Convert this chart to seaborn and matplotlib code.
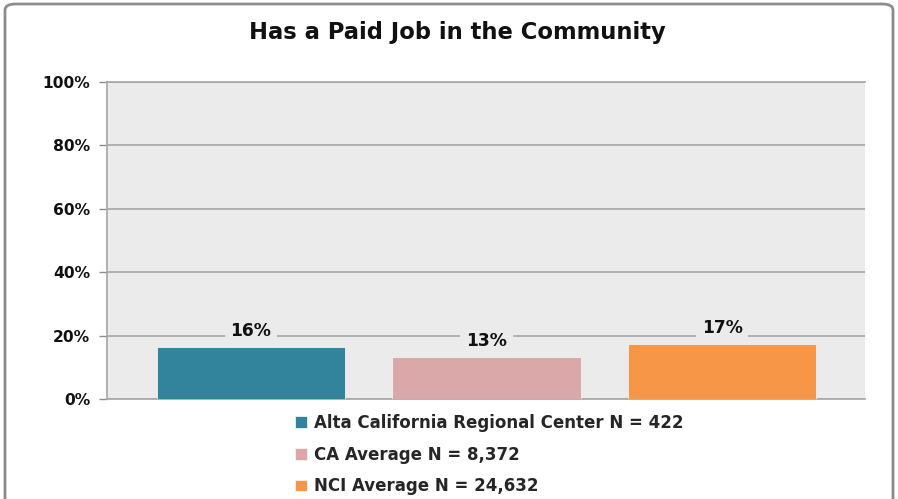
import matplotlib
matplotlib.use("Agg")
import matplotlib.pyplot as plt
from matplotlib.patches import FancyBboxPatch
import seaborn as sns
import pandas as pd

# data
groups = ["Alta California Regional Center N = 422",
          "CA Average N = 8,372",
          "NCI Average N = 24,632"]
values = [16.4, 13.2, 17.3]
labels = ["16%", "13%", "17%"]
colors = ["#31849B", "#DAA8A8", "#F79646"]
yticks = [0, 20, 40, 60, 80, 100]

df = pd.DataFrame({"group": groups, "value": values})

sns.set_style("white")
plt.rcParams["font.family"] = ["DejaVu Sans"]

fig = plt.figure(figsize=(8.98, 4.99), dpi=100)
ax = fig.add_axes([107 / 898, 1 - 399 / 499, (865 - 107) / 898, (399 - 82) / 499])
ax.set_facecolor("#EBEBEB")

sns.barplot(data=df, x="group", y="value", hue="group", palette=colors,
            saturation=1, width=0.8, dodge=False, legend=False, ax=ax, zorder=3,
            edgecolor="#F2F2F2", linewidth=0.6)

ax.set_xlim(-0.611, 2.607)
ax.set_ylim(0, 100)
ax.set_yticks(yticks)
ax.set_yticklabels([f"{t}%" for t in yticks], fontsize=11.2, fontweight="bold", color="#111111")
ax.set_xticks([])
ax.set_xlabel("")
ax.set_ylabel("")
ax.tick_params(axis="y", length=6, width=1, color="#8C8C8C", pad=6, left=True)
ax.yaxis.grid(True, color="#A6A6A6", linewidth=1.2, zorder=1)
ax.set_axisbelow(True)
for side in ["left", "bottom", "top"]:
    ax.spines[side].set_visible(True)
    ax.spines[side].set_color("#A6A6A6")
    ax.spines[side].set_linewidth(1.2)
ax.spines["right"].set_visible(False)

# value labels with a background that breaks the gridline
for i, (v, lab) in enumerate(zip(values, labels)):
    ax.text(i, v + 5.2, lab, ha="center", va="center", fontsize=12.3,
            fontweight="bold", color="#111111", zorder=4,
            bbox=dict(facecolor="#EBEBEB", edgecolor="none", pad=4))

fig.text(457 / 898, 1 - 33 / 499, "Has a Paid Job in the Community", ha="center",
         va="center", fontsize=16.3, fontweight="bold", color="#111111")

handles = [c.patches[0] for c in ax.containers]
fig.legend(handles, groups, loc="upper left", bbox_to_anchor=(280 / 898, 1 - 399 / 499),
           frameon=False, prop={"weight": "bold", "size": 12},
           handlelength=0.7, handleheight=0.7, handletextpad=0.45, labelspacing=0.82)

border = FancyBboxPatch((5 / 898, -0.1), 888 / 898, 1 - 4 / 499 + 0.1,
                        boxstyle="round,pad=0,rounding_size=0.012",
                        transform=fig.transFigure, facecolor="none",
                        edgecolor="#8C8C8C", linewidth=2, zorder=0)
fig.patches.append(border)

fig.savefig("out.png", dpi=100)
